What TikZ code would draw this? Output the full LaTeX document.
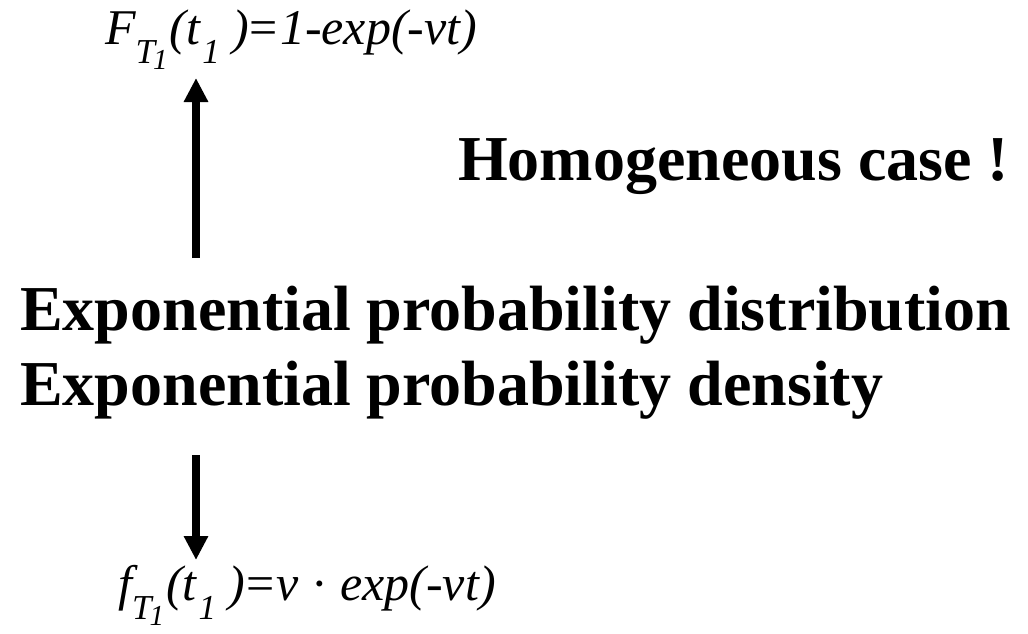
\documentclass[tikz,border=0pt]{standalone}
\usepackage{fontspec}
\setmainfont{Liberation Serif}
\usetikzlibrary{arrows.meta}
\newcommand{\fsub}[2]{\raisebox{-#1}{\fontsize{35}{35}\selectfont #2}}
\newcommand{\fsubsub}[1]{\kern-2pt\raisebox{-6pt}{\fontsize{29}{29}\selectfont #1}}
\tikzset{
  formula/.style={anchor=base west, inner sep=0pt, font=\fontsize{50}{50}\selectfont\itshape},
  bigtext/.style={anchor=base west, inner sep=0pt, font=\fontsize{64}{64}\selectfont\bfseries},
  bigarrow/.style={line width=8pt, -{Triangle[width=23pt,length=24pt]}}
}
\begin{document}
\begin{tikzpicture}[x=1pt,y=-1pt]
\useasboundingbox (0,0) rectangle (1028,634);
\node[formula] (Fform) at (105,45) {F\fsub{19pt}{T\fsubsub{1}}\kern2pt(t\kern2pt\fsub{19pt}{1}\ )\kern1pt\upshape{=}\kern2pt\itshape 1-exp(-vt)};
\node[bigtext] (homog) at (458,180) {Homogeneous case !};
\node[bigtext] (line1) at (20,330) {Exponential probability distribution};
\node[bigtext] (line2) at (20,405) {Exponential probability density};
\node[formula] (fform) at (118,600) {f\fsub{19pt}{T\fsubsub{1}}\kern2pt(t\kern2pt\fsub{19pt}{1}\ )\kern1pt\upshape{=}\kern2pt\itshape v \upshape{·} \itshape exp(-vt)};
\coordinate (upstart) at (196,258);
\coordinate (uptip) at (196,78);
\coordinate (downstart) at (196,455);
\coordinate (downtip) at (196,560);
\draw[bigarrow] (upstart) -- (uptip);
\draw[bigarrow] (downstart) -- (downtip);
\end{tikzpicture}
\end{document}
